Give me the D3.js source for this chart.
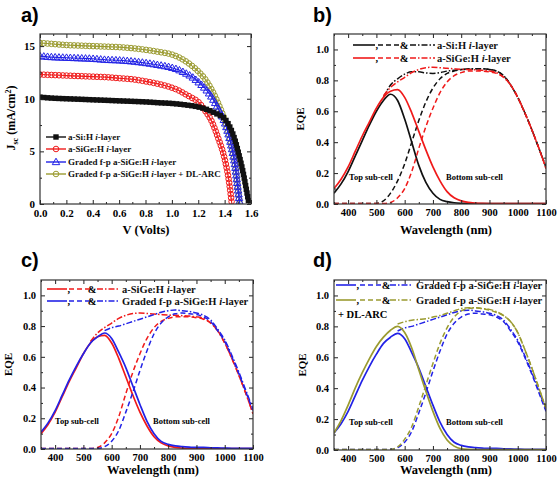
<!DOCTYPE html>
<html><head><meta charset="utf-8">
<script src="https://cdn.jsdelivr.net/npm/d3@7"></script>
<style>
body{margin:0;background:#fff;}
svg text{font-family:"Liberation Serif","Times New Roman",serif;font-weight:bold;}
</style></head><body>
<svg id="c" width="558" height="478"></svg>
<script>
// ---------- Panel a: J-V data ----------
const vSi   = [0,0.1,0.2,0.3,0.4,0.5,0.6,0.7,0.8,0.9,1.0,1.1,1.2,1.25,1.3,1.35,1.4,1.44,1.48,1.51,1.54,1.56,1.585];
const jSi   = [10.15,10.05,10.0,9.95,9.9,9.85,9.8,9.75,9.7,9.62,9.55,9.42,9.22,9.05,8.8,8.5,8.1,7.3,6.0,4.6,3.0,1.7,0];
const vSiGe = [0,0.1,0.2,0.3,0.4,0.5,0.6,0.7,0.8,0.9,1.0,1.05,1.1,1.15,1.2,1.25,1.3,1.35,1.4,1.43,1.455];
const jSiGe = [12.3,12.25,12.2,12.15,12.1,12.05,11.95,11.85,11.65,11.4,11.05,10.8,10.45,10.1,9.7,8.9,7.9,6.3,4.3,2.4,0];
const vGrad = [0,0.1,0.2,0.3,0.4,0.5,0.6,0.7,0.8,0.9,1.0,1.05,1.1,1.15,1.2,1.25,1.3,1.35,1.4,1.43,1.46,1.48,1.5,1.515];
const jGrad = [14.05,13.95,13.9,13.85,13.8,13.7,13.65,13.55,13.4,13.2,12.95,12.75,12.45,12.1,11.6,11.0,10.2,9.1,7.8,6.6,5.0,3.6,1.5,0];
const vArc  = [0,0.1,0.2,0.3,0.4,0.5,0.6,0.7,0.8,0.9,1.0,1.05,1.1,1.15,1.2,1.25,1.3,1.35,1.4,1.43,1.46,1.48,1.5,1.515];
const jArc  = [15.3,15.2,15.1,15.05,15.0,14.95,14.9,14.8,14.65,14.45,14.2,13.95,13.6,13.15,12.6,11.9,10.9,9.6,8.0,6.8,5.1,3.7,1.6,0];
const jvLabels = ["a-Si:H  |i|-layer","a-SiGe:H |i|-layer","Graded f-p a-SiGe:H |i|-layer","Graded f-p a-SiGe:H |i|-layer + DL-ARC"];
const vTicks = [0,0.2,0.4,0.6,0.8,1.0,1.2,1.4,1.6];
const jTicks = [0,5,10,15];

// ---------- Panels b-d: EQE data ----------
const wl = [350,375,400,425,450,475,500,525,550,575,600,625,650,675,700,725,750,775,800,825,850,875,900,925,950,975,1000,1025,1050,1075,1100];
const siTop   = [0.07,0.13,0.21,0.31,0.41,0.51,0.60,0.67,0.71,0.67,0.55,0.40,0.25,0.14,0.07,0.03,0.015,0.008,0.005,0.004,0.003,0.003,0.002,0.002,0.002,0.002,0.002,0.002,0.002,0.002,0.002];
const siBot   = [0.003,0.003,0.003,0.003,0.003,0.003,0.004,0.02,0.07,0.15,0.26,0.40,0.54,0.66,0.75,0.81,0.845,0.86,0.87,0.87,0.875,0.875,0.87,0.86,0.83,0.77,0.69,0.59,0.48,0.36,0.24];
const siTot   = [null,null,null,null,null,null,null,0.69,0.77,0.81,0.84,0.855,0.855,0.848,0.845,0.85,0.86,0.865,0.87,0.875,0.875,0.875,0.87,0.86,0.83,0.77,0.69,0.59,0.48,0.36,0.24];
const sigeTop = [0.10,0.16,0.24,0.34,0.44,0.53,0.62,0.69,0.73,0.74,0.69,0.59,0.47,0.35,0.24,0.15,0.08,0.04,0.02,0.01,0.006,0.004,0.003,0.003,0.003,0.003,0.003,0.003,0.003,0.003,0.003];
const sigeBot = [0.003,0.003,0.003,0.003,0.003,0.003,0.003,0.003,0.01,0.04,0.10,0.21,0.36,0.50,0.62,0.72,0.79,0.83,0.85,0.86,0.86,0.86,0.855,0.845,0.82,0.77,0.69,0.59,0.48,0.36,0.23];
const sigeTot = [null,null,null,null,null,null,null,0.70,0.755,0.79,0.82,0.85,0.87,0.882,0.885,0.882,0.878,0.875,0.872,0.87,0.868,0.865,0.86,0.85,0.82,0.77,0.69,0.59,0.48,0.36,0.23];
const gradTop = [0.11,0.17,0.25,0.35,0.45,0.54,0.62,0.69,0.73,0.755,0.72,0.63,0.53,0.41,0.29,0.18,0.10,0.05,0.03,0.02,0.015,0.012,0.01,0.01,0.008,0.007,0.006,0.005,0.005,0.004,0.004];
const gradBot = [0.003,0.003,0.003,0.003,0.003,0.003,0.003,0.003,0.003,0.015,0.05,0.12,0.24,0.37,0.51,0.64,0.75,0.82,0.86,0.88,0.885,0.88,0.875,0.86,0.83,0.77,0.70,0.60,0.49,0.37,0.25];
const gradTot = [null,null,null,null,null,null,null,null,null,0.77,0.79,0.80,0.815,0.83,0.845,0.86,0.875,0.89,0.90,0.905,0.90,0.895,0.885,0.87,0.84,0.78,0.71,0.61,0.50,0.38,0.26];
const arcTop  = [0.11,0.19,0.29,0.40,0.50,0.59,0.67,0.73,0.775,0.80,0.76,0.66,0.52,0.38,0.25,0.14,0.065,0.025,0.008,0.004,0.003,0.003,0.003,0.003,0.003,0.003,0.003,0.003,0.003,0.003,0.003];
const arcBot  = [0.003,0.003,0.003,0.003,0.003,0.003,0.003,0.003,0.003,0.02,0.07,0.15,0.28,0.42,0.56,0.69,0.79,0.86,0.90,0.915,0.92,0.915,0.905,0.89,0.87,0.83,0.76,0.65,0.53,0.40,0.27];
const arcTot  = [null,null,null,null,null,null,null,null,null,0.815,0.83,0.84,0.845,0.85,0.86,0.87,0.885,0.90,0.915,0.92,0.92,0.915,0.91,0.895,0.87,0.83,0.76,0.65,0.53,0.40,0.27];
const wlTicks = [400,500,600,700,800,900,1000,1100];
const eqeTicks = [0,0.2,0.4,0.6,0.8,1.0];

const C = {black:"#111111", red:"#f01a1a", blue:"#2222e6", olive:"#9b9b30"};
const svg = d3.select("#c");

function makePanel(p){
  const x = d3.scaleLinear().domain(p.xd).range([p.l,p.r]);
  const y = d3.scaleLinear().domain(p.yd).range([p.b,p.t]);
  const g = svg.append("g");
  const id = "clip"+p.name;
  svg.append("clipPath").attr("id",id).append("rect")
    .attr("x",p.l).attr("y",p.t-1).attr("width",p.r-p.l).attr("height",p.b-p.t+1);
  const plot = g.append("g").attr("clip-path",`url(#${id})`);
  const ax = (gen,tr,fs) => {
    const a = g.append("g").attr("transform",tr).call(gen);
    a.select(".domain").remove();
    a.attr("font-size",fs||p.fs).attr("font-family",null);
    a.selectAll("line").attr("stroke","#222").attr("stroke-width",1);
    return a;
  };
  ax(d3.axisBottom(x).tickValues(p.xMaj).tickSize(-4).tickPadding(5).tickFormat(p.fx),`translate(0,${p.b})`);
  ax(d3.axisBottom(x).tickValues(p.xMin).tickSize(-2).tickFormat(""),`translate(0,${p.b})`);
  ax(d3.axisTop(x).tickValues(p.xMaj).tickSize(-4).tickFormat(""),`translate(0,${p.t})`);
  ax(d3.axisTop(x).tickValues(p.xMin).tickSize(-2).tickFormat(""),`translate(0,${p.t})`);
  ax(d3.axisLeft(y).tickValues(p.yMaj).tickSize(-4).tickPadding(5).tickFormat(p.fy),`translate(${p.l},0)`);
  ax(d3.axisLeft(y).tickValues(p.yMin).tickSize(-2).tickFormat(""),`translate(${p.l},0)`);
  ax(d3.axisRight(y).tickValues(p.yMaj).tickSize(-4).tickFormat(""),`translate(${p.r},0)`);
  ax(d3.axisRight(y).tickValues(p.yMin).tickSize(-2).tickFormat(""),`translate(${p.r},0)`);
  g.append("rect").attr("x",p.l).attr("y",p.t).attr("width",p.r-p.l).attr("height",p.b-p.t)
    .attr("fill","none").attr("stroke","#333").attr("stroke-width",1.2);
  return {x,y,plot,g};
}

function richText(sel, str){
  str.split("|").forEach((s,i)=>{
    if(!s) return;
    const t = sel.append("tspan").text(s);
    if(i%2===1) t.attr("font-style","italic");
  });
}

// ================= Panel a =================
(function(){
  const P = makePanel({name:"a",l:40,r:251,t:34,b:204,xd:[0,1.6],yd:[0,16.15],
    xMaj:vTicks,xMin:[0.1,0.3,0.5,0.7,0.9,1.1,1.3,1.5],yMaj:jTicks,yMin:[2.5,7.5,12.5],
    fx:d3.format(".1f"),fy:d3.format("d"),fs:11});
  const line = d3.line().x(d=>P.x(d[0])).y(d=>P.y(d[1])).curve(d3.curveMonotoneX);
  const series = [
    {v:vArc,j:jArc,c:C.olive,m:"circle"},
    {v:vGrad,j:jGrad,c:C.blue,m:"tri"},
    {v:vSiGe,j:jSiGe,c:C.red,m:"circle"},
    {v:vSi,j:jSi,c:C.black,m:"square"}
  ];
  const drawMarker = (g,m,c,px,py)=>{
    if(m==="square") g.append("rect").attr("x",px-2.7).attr("y",py-2.7).attr("width",5.4).attr("height",5.4).attr("fill",c);
    else if(m==="circle") g.append("circle").attr("cx",px).attr("cy",py).attr("r",2.8).attr("fill","none").attr("stroke",c).attr("stroke-width",1);
    else g.append("path").attr("d",d3.symbol(d3.symbolTriangle,24)()).attr("transform",`translate(${px},${py+0.5})`).attr("fill","none").attr("stroke",c).attr("stroke-width",1);
  };
  series.forEach(s=>{
    const pts = s.v.map((v,i)=>[v,s.j[i]]);
    const path = P.plot.append("path").attr("d",line(pts)).attr("fill","none").attr("stroke",s.c).attr("stroke-width",1.1);
    const node = path.node(), L = node.getTotalLength();
    const mg = P.plot.append("g");
    for(let l=0;l<=L;l+=3.8){
      const pt = node.getPointAtLength(l);
      drawMarker(mg,s.m,s.c,pt.x,pt.y);
    }
  });
  // legend
  const ly = [137,149,162,174];
  series.slice().reverse().forEach((s,i)=>{
    P.g.append("line").attr("x1",46).attr("x2",66).attr("y1",ly[i]).attr("y2",ly[i]).attr("stroke",s.c).attr("stroke-width",1.4);
    drawMarker(P.g,s.m,s.c,56,ly[i]);
    const t = P.g.append("text").attr("x",68).attr("y",ly[i]+3.2).attr("font-size",9).attr("fill","#111");
    richText(t,jvLabels[i]);
  });
  svg.append("text").attr("x",146).attr("y",234).attr("text-anchor","middle").attr("font-size",12.5).text("V (Volts)");
  const jt = svg.append("text").attr("transform","translate(15,118) rotate(-90)").attr("text-anchor","middle").attr("font-size",12);
  jt.append("tspan").text("J");
  jt.append("tspan").attr("font-size",8).attr("dy",3).text("sc");
  jt.append("tspan").attr("dy",-3).text(" (mA/cm");
  jt.append("tspan").attr("font-size",8).attr("dy",-4).text("2");
  jt.append("tspan").attr("dy",4).text(")");
})();

// ================= EQE panels =================
function eqePanel(cfg){
  const P = makePanel({name:cfg.name,l:cfg.l,r:cfg.r,t:cfg.t,b:cfg.b,xd:[350,1100],yd:[0,1.1],
    xMaj:wlTicks,xMin:[350,450,550,650,750,850,950,1050],yMaj:eqeTicks,yMin:[0.1,0.3,0.5,0.7,0.9],
    fx:d3.format("d"),fy:d3.format(".1f"),fs:10.5});
  const line = d3.line().defined(d=>d[1]!==null).x(d=>P.x(d[0])).y(d=>P.y(d[1])).curve(d3.curveMonotoneX);
  const dashes = ["none","5,3","6,2,1.5,2"];
  cfg.sets.forEach(s=>{
    [s.top,s.bot,s.tot].forEach((arr,k)=>{
      P.plot.append("path").attr("d",line(wl.map((w,i)=>[w,arr[i]])))
        .attr("fill","none").attr("stroke",s.c).attr("stroke-width",k===0?1.7:1.5)
        .attr("stroke-dasharray",dashes[k]);
    });
  });
  // legend
  const L = cfg.leg;
  cfg.sets.forEach((s,i)=>{
    const yy = L.y[i];
    const seg = (x1,x2,k)=>P.g.append("line").attr("x1",x1).attr("x2",x2).attr("y1",yy).attr("y2",yy)
      .attr("stroke",s.c).attr("stroke-width",1.6).attr("stroke-dasharray",dashes[k]);
    seg(L.x[0],L.x[1],0);
    P.g.append("text").attr("x",L.x[1]+0.5).attr("y",yy+3.5).attr("font-size",10.5).text(",");
    seg(L.x[2],L.x[3],1);
    P.g.append("text").attr("x",L.x[4]).attr("y",yy+3.8).attr("text-anchor","middle").attr("font-size",10.5).text("&");
    seg(L.x[5],L.x[6],2);
    const t = P.g.append("text").attr("x",L.x[7]).attr("y",yy+3.8).attr("font-size",10.5).attr("fill","#111");
    richText(t,s.label);
  });
  if(cfg.extra) P.g.append("text").attr("x",cfg.extra.x).attr("y",cfg.extra.y).attr("font-size",10.5).text(cfg.extra.text);
  P.g.append("text").attr("x",cfg.topX).attr("y",cfg.subY).attr("font-size",8.5).text("Top sub-cell");
  P.g.append("text").attr("x",cfg.botX).attr("y",cfg.subY).attr("font-size",8.5).text("Bottom sub-cell");
  svg.append("text").attr("x",(cfg.l+cfg.r)/2+6).attr("y",Math.min(cfg.b+30,474)).attr("text-anchor","middle").attr("font-size",12.5).text("Wavelength (nm)");
  svg.append("text").attr("transform",`translate(${cfg.eqeX},${(cfg.t+cfg.b)/2}) rotate(-90)`).attr("text-anchor","middle").attr("font-size",11).text("EQE");
}

eqePanel({name:"b",l:334,r:546,t:34,b:204,eqeX:304,topX:349,botX:446,subY:179.5,
  sets:[{top:siTop,bot:siBot,tot:siTot,c:C.black,label:"a-Si:H |i|-layer"},
        {top:sigeTop,bot:sigeBot,tot:sigeTot,c:C.red,label:"a-SiGe:H |i|-layer"}],
  leg:{y:[45,58],x:[353,375,378,399,404,410,435,437]}});
eqePanel({name:"c",l:41,r:253,t:280,b:449,eqeX:12,topX:55,botX:153,subY:424,
  sets:[{top:sigeTop,bot:sigeBot,tot:sigeTot,c:C.red,label:"a-SiGe:H |i|-layer"},
        {top:gradTop,bot:gradBot,tot:gradTot,c:C.blue,label:"Graded f-p a-SiGe:H |i|-layer"}],
  leg:{y:[289,301],x:[47,67,69,90,92,97,120,122]}});
eqePanel({name:"d",l:334,r:546,t:280,b:450,eqeX:306,topX:349,botX:446,subY:425,
  sets:[{top:gradTop,bot:gradBot,tot:gradTot,c:C.blue,label:"Graded f-p a-SiGe:H |i|-layer"},
        {top:arcTop,bot:arcBot,tot:arcTot,c:C.olive,label:"Graded f-p a-SiGe:H |i|-layer"}],
  leg:{y:[285,300],x:[336,356,360,381,386,390,413,416]},
  extra:{x:338,y:318,text:"+ DL-ARC"}});

// panel letters
[["a)",21,22],["b)",313,22],["c)",21,267],["d)",313,267]].forEach(d=>{
  svg.append("text").attr("x",d[1]).attr("y",d[2]).attr("font-size",20)
    .style("font-family","'Liberation Sans',Arial,sans-serif").style("font-weight","bold").text(d[0]);
});
</script>
</body></html>
